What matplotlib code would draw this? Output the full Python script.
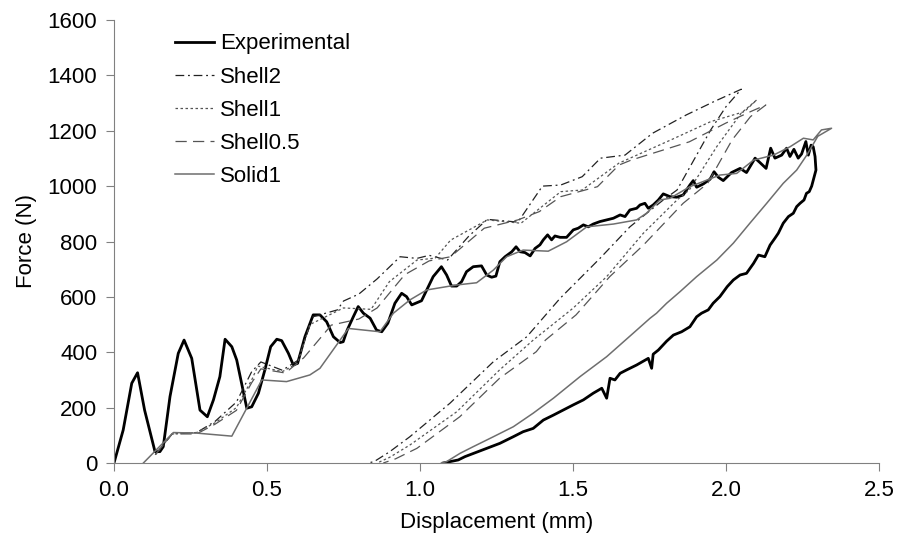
import matplotlib
matplotlib.use('Agg')
import matplotlib.pyplot as plt

plt.rcParams['font.family'] = ['Liberation Sans', 'DejaVu Sans']

# Experimental: loading branch followed by the unloading branch
exp_x = [0.0, 0.03, 0.058, 0.077, 0.10, 0.134, 0.15, 0.161, 0.183, 0.21, 0.229, 0.254, 0.281, 0.305,
         0.325, 0.346, 0.363, 0.385, 0.401, 0.434, 0.45, 0.472, 0.493, 0.512, 0.532, 0.548, 0.57, 0.586,
         0.60, 0.624, 0.651, 0.673, 0.695, 0.717, 0.739, 0.749, 0.762, 0.782, 0.798, 0.815, 0.837, 0.858,
         0.875, 0.895, 0.918, 0.94, 0.956, 0.973, 1.005, 1.022, 1.043, 1.07, 1.087, 1.103, 1.12, 1.136,
         1.152, 1.174, 1.201, 1.218, 1.234, 1.248, 1.261, 1.278, 1.30, 1.314, 1.327, 1.343, 1.36, 1.376,
         1.392, 1.403, 1.417, 1.43, 1.441, 1.458, 1.479, 1.501, 1.517, 1.534, 1.55, 1.566, 1.588, 1.61,
         1.632, 1.654, 1.67, 1.686, 1.708, 1.719, 1.735, 1.746, 1.762, 1.779, 1.795, 1.817, 1.839, 1.86,
         1.882, 1.893, 1.904, 1.926, 1.948, 1.961, 1.975, 1.991, 2.018, 2.046, 2.067, 2.095, 2.111, 2.131,
         2.146, 2.16, 2.182, 2.198, 2.209, 2.222, 2.236, 2.247, 2.261, 2.269, 2.278, 2.285, 2.291, 2.294,
         2.28, 2.272, 2.263, 2.255, 2.242, 2.231, 2.22, 2.204, 2.187, 2.171, 2.16, 2.144, 2.127, 2.106,
         2.09, 2.067, 2.046, 2.024, 2.004, 1.98, 1.958, 1.942, 1.92, 1.904, 1.882, 1.855, 1.828, 1.806,
         1.779, 1.762, 1.757, 1.746, 1.708, 1.675, 1.654, 1.637, 1.621, 1.61, 1.594, 1.566, 1.534, 1.501,
         1.468, 1.436, 1.403, 1.37, 1.337, 1.305, 1.261, 1.218, 1.174, 1.147, 1.125, 1.098, 1.076]
exp_y = [0, 119, 288, 326, 191, 41, 41, 59, 240, 396, 444, 378, 191, 167,
         228, 312, 447, 420, 372, 198, 203, 252, 336, 420, 447, 442, 396, 354,
         360, 456, 535, 535, 510, 456, 435, 438, 480, 528, 565, 541, 523, 480,
         474, 505, 577, 613, 601, 571, 586, 625, 673, 709, 679, 639, 639, 655,
         691, 709, 712, 679, 671, 675, 727, 745, 763, 781, 763, 760, 748, 775,
         788, 806, 824, 806, 820, 815, 815, 842, 848, 860, 853, 863, 872, 878,
         884, 896, 890, 914, 920, 932, 938, 920, 932, 950, 972, 962, 960, 968,
         1004, 1020, 996, 1008, 1025, 1052, 1032, 1020, 1049, 1064, 1049, 1101, 1085, 1064,
         1137, 1101, 1112, 1137, 1107, 1133, 1101, 1116, 1161, 1112, 1148, 1142, 1107, 1058,
         1000, 980, 974, 950, 938, 926, 902, 890, 866, 830, 812, 787, 745, 751,
         721, 685, 679, 661, 637, 601, 577, 553, 541, 528, 492, 474, 462, 440,
         408, 393, 342, 378, 354, 336, 324, 300, 306, 234, 270, 252, 228, 210,
         191, 173, 155, 125, 113, 95, 71, 53, 35, 23, 11, 5, 0]

shell2_x = [0.135, 0.19, 0.27, 0.33, 0.40, 0.45, 0.48, 0.55, 0.60, 0.65, 0.73, 0.75, 0.80, 0.86,
            0.935, 0.99, 1.03, 1.09, 1.16, 1.22, 1.32, 1.40, 1.46, 1.53, 1.59, 1.67, 1.76, 1.87,
            1.96, 2.02, 2.05,
            2.00, 1.95, 1.84, 1.795, 1.686, 1.588, 1.458, 1.349, 1.24, 1.098, 0.967, 0.90, 0.85, 0.83]
shell2_y = [30, 105, 110, 150, 220, 330, 365, 335, 370, 528, 553, 585, 610, 665,
            745, 739, 750, 733, 820, 880, 870, 1000, 1004, 1034, 1101, 1112, 1191, 1257,
            1305, 1335, 1350,
            1287, 1203, 986, 950, 853, 739, 595, 456, 366, 216, 95, 40, 5, 0]

shell1_x = [0.135, 0.19, 0.27, 0.33, 0.40, 0.45, 0.47, 0.55, 0.60, 0.64, 0.75, 0.84, 0.90, 0.99,
            1.05, 1.10, 1.22, 1.33, 1.46, 1.53, 1.65, 1.82, 1.95, 2.06, 2.10,
            2.05, 1.97, 1.88, 1.84, 1.73, 1.61, 1.50, 1.37, 1.26, 1.12, 0.967, 0.90, 0.86]
shell1_y = [30, 105, 110, 145, 200, 300, 350, 330, 360, 500, 560, 555, 655, 733,
            740, 805, 878, 866, 980, 986, 1083, 1167, 1233, 1269, 1311,
            1264, 1143, 986, 950, 830, 673, 559, 444, 336, 185, 65, 20, 0]

shell05_x = [0.135, 0.19, 0.27, 0.33, 0.40, 0.45, 0.48, 0.56, 0.62, 0.71, 0.80, 0.86, 0.95, 1.03,
             1.10, 1.21, 1.32, 1.39, 1.46, 1.58, 1.65, 1.69, 1.88, 2.00, 2.08, 2.13,
             2.08, 2.02, 1.94, 1.86, 1.73, 1.62, 1.51, 1.41, 1.38, 1.26, 1.13, 0.99, 0.92, 0.88]
shell05_y = [30, 105, 105, 140, 190, 290, 340, 325, 380, 498, 520, 560, 680, 730,
             745, 848, 878, 908, 962, 998, 1076, 1094, 1160, 1228, 1269, 1293,
             1251, 1167, 1010, 938, 787, 673, 535, 444, 402, 306, 167, 53, 15, 0]

solid1_x = [0.096, 0.194, 0.27, 0.385, 0.483, 0.564, 0.64, 0.673, 0.766, 0.869, 0.913, 0.967, 1.022,
            1.12, 1.185, 1.24, 1.283, 1.337, 1.419, 1.479, 1.545, 1.632, 1.708, 1.74, 1.784, 1.817,
            1.882, 1.98, 2.035, 2.09, 2.155, 2.209, 2.253, 2.285, 2.312, 2.345,
            2.30, 2.264, 2.231, 2.187, 2.133, 2.078, 2.024, 1.97, 1.904, 1.85, 1.806, 1.773, 1.752,
            1.697, 1.61, 1.523, 1.436, 1.37, 1.305, 1.24, 1.174, 1.131, 1.087, 1.07]
solid1_y = [0, 110, 108, 97, 300, 294, 318, 342, 486, 474, 541, 589, 625,
            643, 651, 697, 745, 769, 765, 799, 853, 863, 878, 902, 950, 956,
            998, 1040, 1046, 1094, 1112, 1142, 1173, 1167, 1203, 1209,
            1180, 1112, 1058, 1010, 938, 866, 794, 733, 673, 619, 577, 541, 523,
            469, 384, 312, 234, 180, 131, 95, 59, 35, 5, 0]

fig = plt.figure(figsize=(9.03, 5.39), dpi=100)
ax = fig.add_axes([114 / 903, 76 / 539, 765 / 903, 443 / 539])

ax.plot(exp_x, exp_y, color='black', lw=2.0, label='Experimental')
ax.plot(shell2_x, shell2_y, color='#222222', lw=0.9, dashes=(7, 3, 1.5, 3), label='Shell2')
ax.plot(shell1_x, shell1_y, color='#555555', lw=0.9, dashes=(2, 2), label='Shell1')
ax.plot(shell05_x, shell05_y, color='#555555', lw=0.9, dashes=(9, 5), label='Shell0.5')
ax.plot(solid1_x, solid1_y, color='#6e6e6e', lw=1.1, label='Solid1')

ax.set_xlim(0, 2.5)
ax.set_ylim(0, 1600)
ax.set_xticks([0, 0.5, 1.0, 1.5, 2.0, 2.5])
ax.set_xticklabels(['0.0', '0.5', '1.0', '1.5', '2.0', '2.5'])
ax.set_yticks(range(0, 1601, 200))
ax.spines['top'].set_visible(False)
ax.spines['right'].set_visible(False)
ax.spines['left'].set_color('#808080')
ax.spines['bottom'].set_color('#808080')
ax.tick_params(direction='out', length=6, color='#808080', labelsize=16, pad=6)

ax.set_xlabel('Displacement (mm)', fontsize=16, labelpad=8)
ax.set_ylabel('Force (N)', fontsize=16, labelpad=8)

ax.legend(loc='upper left', bbox_to_anchor=(0.062, 1.0), frameon=False, fontsize=16,
          handlelength=1.75, handletextpad=0.3, labelspacing=0.55, borderaxespad=0.2)

fig.savefig('out.png', dpi=100)
